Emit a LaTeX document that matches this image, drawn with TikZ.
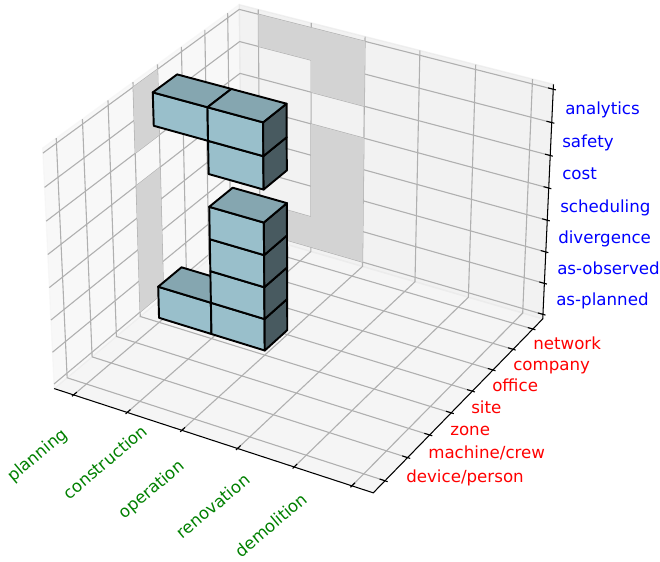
\documentclass[tikz,border=0pt]{standalone}
\usepackage{fontspec}
\setmainfont{DejaVu Sans}
\definecolor{vfront}{HTML}{99BFCB}
\definecolor{vtop}{HTML}{85A6B0}
\definecolor{vside}{HTML}{485A60}
\definecolor{wallgray}{HTML}{D3D3D3}
\definecolor{gridgray}{HTML}{B0B0B0}
\definecolor{labgreen}{HTML}{008000}
\definecolor{labred}{HTML}{FF0000}
\definecolor{labblue}{HTML}{0000FF}

% perspective projection of a data point (x,y,z) to picture coordinates
\newcommand\mplpt[4]{%
  \pgfmathsetmacro\mpdx{(#2+0.25)*0.207792-4.901559}%
  \pgfmathsetmacro\mpdy{(#3+0.35)*0.148423+6.928571}%
  \pgfmathsetmacro\mpdz{(#4)*0.122449-5.428571}%
  \pgfmathsetmacro\mpvx{0.866025*\mpdx+0.5*\mpdy}%
  \pgfmathsetmacro\mpvy{-0.25*\mpdx+0.433013*\mpdy+0.866025*\mpdz}%
  \pgfmathsetmacro\mpvz{-0.433013*\mpdx+0.75*\mpdy-0.5*\mpdz}%
  \pgfmathsetmacro\mppx{303+3070*\mpvx/\mpvz}%
  \pgfmathsetmacro\mppy{237-3070*\mpvy/\mpvz}%
  \coordinate (#1) at (\mppx,-\mppy);%
}
% pane limits
\def\xa{-0.364583}\def\xb{5.364583}
\def\ya{-0.510417}\def\yb{7.510417}
\def\za{-0.145833}\def\zb{7.145833}

% grey footprint on the back wall: name, x0, x1, z0, z1
\newcommand\backfoot[5]{%
  \mplpt{#1a}{#2}{\yb}{#4}\mplpt{#1b}{#3}{\yb}{#4}%
  \mplpt{#1c}{#3}{\yb}{#5}\mplpt{#1d}{#2}{\yb}{#5}%
  \fill[wallshade] (#1a) -- (#1b) -- (#1c) -- (#1d) -- cycle;}
% grey footprint on the left wall: name, y0, y1, z0, z1
\newcommand\leftfoot[5]{%
  \mplpt{#1a}{\xa}{#2}{#4}\mplpt{#1b}{\xa}{#3}{#4}%
  \mplpt{#1c}{\xa}{#3}{#5}\mplpt{#1d}{\xa}{#2}{#5}%
  \fill[wallshade] (#1a) -- (#1b) -- (#1c) -- (#1d) -- cycle;}

% one voxel: name, x, y, z, x+1, y+1, z+1, draw right face (1/0), draw top face (1/0)
\newcommand\voxel[9]{%
  \mplpt{#1-000}{#2}{#3}{#4}\mplpt{#1-100}{#5}{#3}{#4}%
  \mplpt{#1-110}{#5}{#6}{#4}\mplpt{#1-010}{#2}{#6}{#4}%
  \mplpt{#1-001}{#2}{#3}{#7}\mplpt{#1-101}{#5}{#3}{#7}%
  \mplpt{#1-111}{#5}{#6}{#7}\mplpt{#1-011}{#2}{#6}{#7}%
  \filldraw[voxface, fill=vfront] (#1-000) -- (#1-100) -- (#1-101) -- (#1-001) -- cycle;
  \ifnum#8=1 \filldraw[voxface, fill=vside] (#1-100) -- (#1-110) -- (#1-111) -- (#1-101) -- cycle;\fi
  \ifnum#9=1 \filldraw[voxface, fill=vtop] (#1-001) -- (#1-101) -- (#1-111) -- (#1-011) -- cycle;\fi
}

\begin{document}
\begin{tikzpicture}[x=0.72pt, y=0.72pt,
  pane/.style={line width=1pt, fill opacity=0.5, draw opacity=0.5},
  gridline/.style={draw=gridgray, line width=0.8pt},
  wallshade/.style={fill=wallgray},
  axisline/.style={draw=black, line width=0.75pt},
  tickmark/.style={draw=black, line width=0.8pt},
  voxface/.style={draw=black, line width=1.4pt, line join=round},
  lab/.style={inner sep=0pt, font=\fontsize{12}{14}\selectfont},
  xlab/.style={lab, text=labgreen, rotate=40, anchor=center},
  ylab/.style={lab, text=labred, anchor=base west},
  zlab/.style={lab, text=labblue, anchor=base west}]
\useasboundingbox (0,0) rectangle (660,-562);

% box corners
\mplpt{caaa}{\xa}{\ya}{\za}\mplpt{cbaa}{\xb}{\ya}{\za}
\mplpt{cbba}{\xb}{\yb}{\za}\mplpt{caba}{\xa}{\yb}{\za}
\mplpt{caab}{\xa}{\ya}{\zb}\mplpt{cbab}{\xb}{\ya}{\zb}
\mplpt{cbbb}{\xb}{\yb}{\zb}\mplpt{cabb}{\xa}{\yb}{\zb}

% panes
\filldraw[pane, fill=black!5, draw=black!5] (caaa) -- (caba) -- (cabb) -- (caab) -- cycle;
\filldraw[pane, fill=black!10, draw=black!10] (caba) -- (cbba) -- (cbbb) -- (cabb) -- cycle;
\filldraw[pane, fill=black!7.5, draw=black!7.5] (caaa) -- (cbaa) -- (cbba) -- (caba) -- cycle;

% grid lines
\foreach \i in {0,...,5}{
  \mplpt{gx\i a}{\i}{\ya}{\za}\mplpt{gx\i b}{\i}{\yb}{\za}\mplpt{gx\i c}{\i}{\yb}{\zb}
  \draw[gridline] (gx\i a) -- (gx\i b) -- (gx\i c);
}
\foreach \j in {0,...,7}{
  \mplpt{gy\j a}{\xb}{\j}{\za}\mplpt{gy\j b}{\xa}{\j}{\za}\mplpt{gy\j c}{\xa}{\j}{\zb}
  \draw[gridline] (gy\j a) -- (gy\j b) -- (gy\j c);
}
\foreach \k in {0,...,7}{
  \mplpt{gz\k a}{\xa}{\ya}{\k}\mplpt{gz\k b}{\xa}{\yb}{\k}\mplpt{gz\k c}{\xb}{\yb}{\k}
  \draw[gridline] (gz\k a) -- (gz\k b) -- (gz\k c);
}

% footprints of the blocks on the walls
\backfoot{ba}{0}{1}{0}{1}
\backfoot{bb}{0}{1}{6}{7}
\backfoot{bc}{1}{2}{0}{4}
\backfoot{bd}{1}{2}{5}{7}
\leftfoot{la}{3}{4}{0}{4}
\leftfoot{lb}{3}{4}{5}{7}

% axis lines
\draw[axisline] (caaa) -- (cbaa) -- (cbba) -- (cbbb);

% ticks
\foreach \i in {0,...,5}{
  \mplpt{tx\i a}{\i}{\ya-0.064167}{\za}\mplpt{tx\i b}{\i}{\ya+0.128333}{\za}
  \draw[tickmark] (tx\i a) -- (tx\i b);
}
\foreach \j in {0,...,7}{
  \mplpt{ty\j a}{\xb+0.045833}{\j}{\za}\mplpt{ty\j b}{\xb-0.091667}{\j}{\za}
  \draw[tickmark] (ty\j a) -- (ty\j b);
  \mplpt{tz\j a}{\xb+0.045833}{\yb}{\j}\mplpt{tz\j b}{\xb-0.091667}{\yb}{\j}
  \draw[tickmark] (tz\j a) -- (tz\j b);
}

% tick labels
\node[xlab] (lx0) at (38,-456) {planning};
\node[xlab] (lx1) at (105,-462) {construction};
\node[xlab] (lx2) at (152,-490) {operation};
\node[xlab] (lx3) at (213,-506) {renovation};
\node[xlab] (lx4) at (271,-525) {demolition};

\node[ylab] (ly0) at (406,-482) {device/person};
\node[ylab] (ly1) at (428,-458) {machine/crew};
\node[ylab] (ly2) at (450,-435) {zone};
\node[ylab] (ly3) at (471,-413) {site};
\node[ylab] (ly4) at (492,-391) {office};
\node[ylab] (ly5) at (513,-370) {company};
\node[ylab] (ly6) at (533,-349) {network};

\node[zlab] (lz0) at (556,-305) {as-planned};
\node[zlab] (lz1) at (557,-274) {as-observed};
\node[zlab] (lz2) at (558,-243) {divergence};
\node[zlab] (lz3) at (560,-212) {scheduling};
\node[zlab] (lz4) at (562,-179) {cost};
\node[zlab] (lz5) at (562,-147) {safety};
\node[zlab] (lz6) at (565,-114) {analytics};

% blocks, back to front
\voxel{va}{0}{3}{0}{1}{4}{1}{0}{1}
\voxel{vb}{0}{3}{6}{1}{4}{7}{0}{1}
\voxel{vc}{1}{3}{0}{2}{4}{1}{1}{0}
\voxel{vd}{1}{3}{1}{2}{4}{2}{1}{0}
\voxel{ve}{1}{3}{2}{2}{4}{3}{1}{0}
\voxel{vf}{1}{3}{3}{2}{4}{4}{1}{1}
\voxel{vg}{1}{3}{5}{2}{4}{6}{1}{0}
\voxel{vh}{1}{3}{6}{2}{4}{7}{1}{1}
\end{tikzpicture}
\end{document}
